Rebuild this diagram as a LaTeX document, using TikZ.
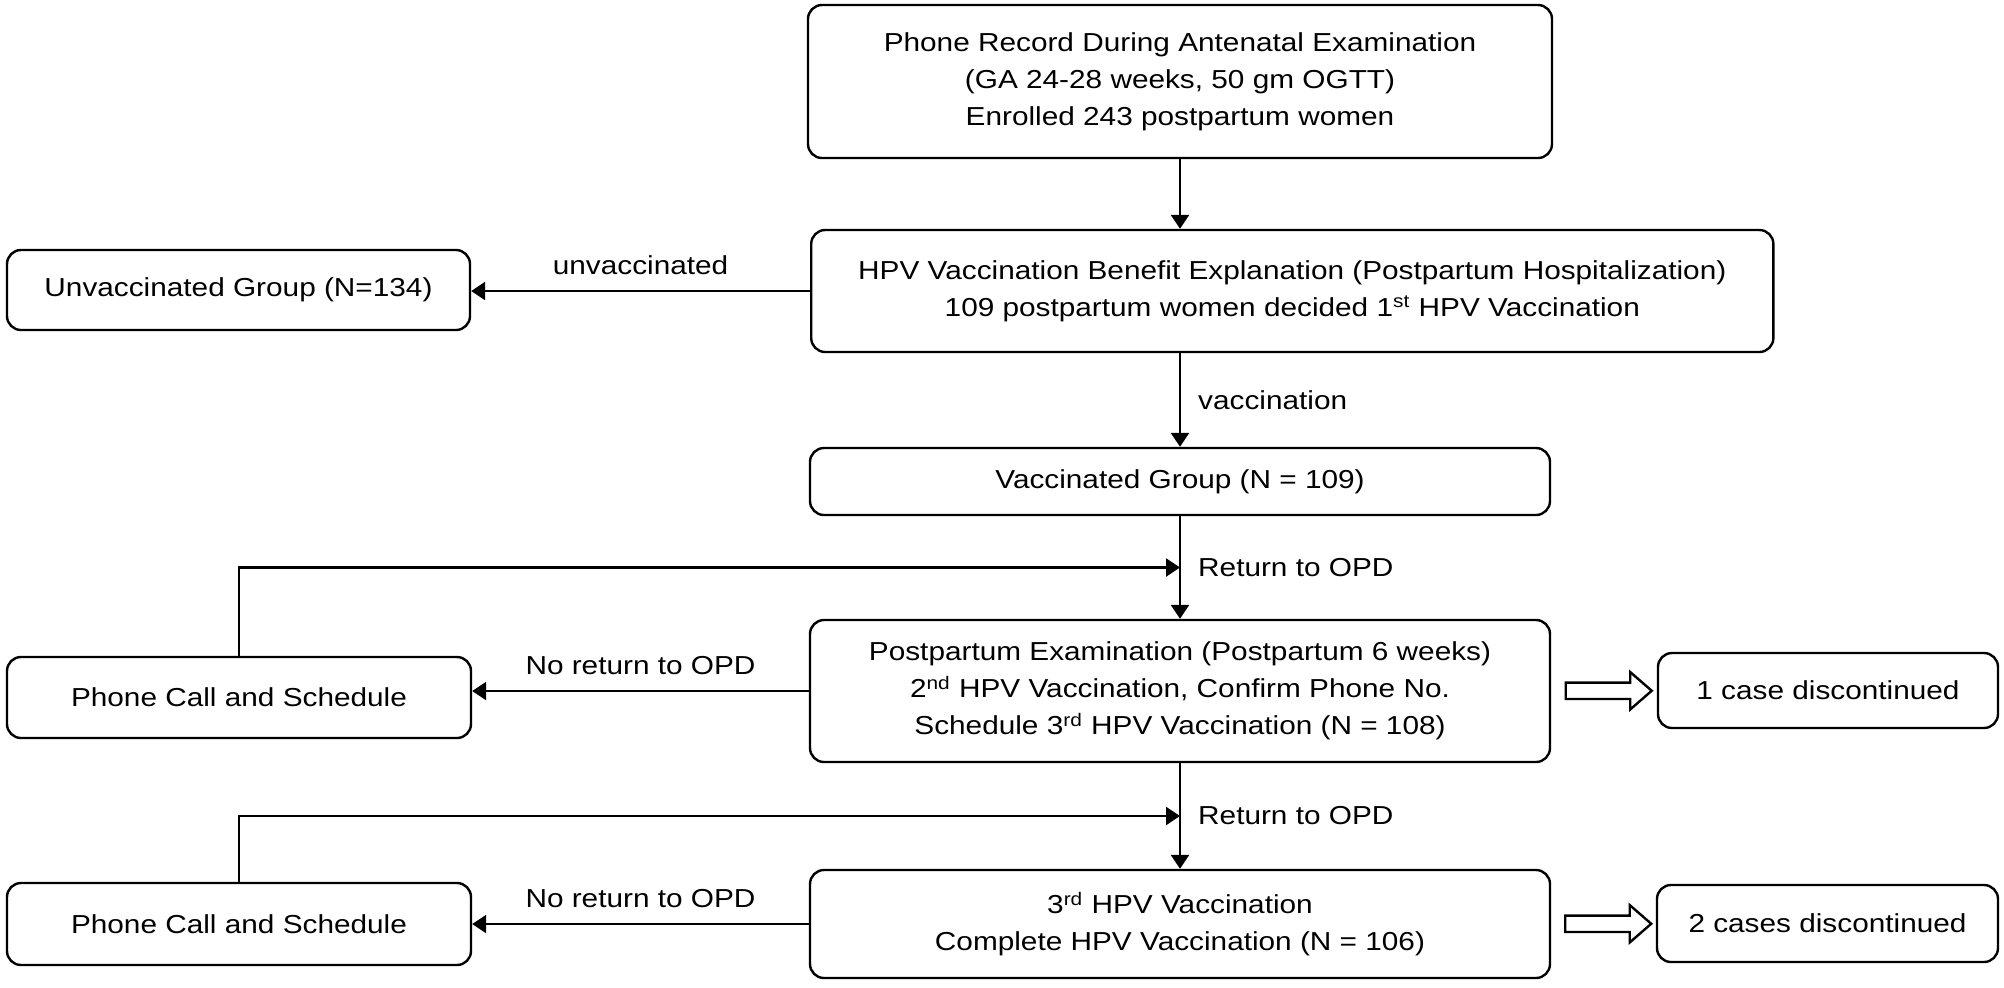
\documentclass[tikz,border=0pt]{standalone}
\usepackage{fontspec}
\setmainfont[FakeStretch=1.145]{Liberation Sans}
\usetikzlibrary{arrows.meta,shapes.arrows,calc}

\tikzset{
  box/.style={draw, line width=1.2pt, rounded corners=7pt, align=center, inner sep=0pt},
  lbl/.style={inner sep=0pt},
  arr/.style={line width=1.2pt, -{Triangle[length=7pt,width=9pt]}},
  hollow/.style={draw, line width=1.2pt, single arrow, single arrow head extend=5.25pt,
    single arrow tip angle=82, minimum height=43pt, inner sep=3.5pt}
}

\begin{document}
\begin{tikzpicture}[x=0.5pt,y=-0.5pt,font=\fontsize{13}{18.5}\selectfont]
    \useasboundingbox (0,0) rectangle (2004,987);

    \node[box, minimum width=372pt, minimum height=76.5pt] (record) at (1180,81.5)
        {Phone Record During Antenatal Examination\\(GA 24-28 weeks, 50 gm OGTT)\\Enrolled 243 postpartum women};
    \node[box, anchor=west, inner xsep=23.5pt, minimum height=61pt] (explain) at (810,291)
        {HPV Vaccination Benefit Explanation (Postpartum Hospitalization)\\109 postpartum women decided 1\textsuperscript{st} HPV Vaccination};
    \node[box, minimum width=231.5pt, minimum height=40pt] (unvacc) at (238.5,290) {Unvaccinated Group (N=134)};
    \node[box, minimum width=370pt, minimum height=33.5pt] (vacc) at (1180,481.5) {Vaccinated Group (N = 109)};

    \node[box, minimum width=370pt, minimum height=71pt] (second) at (1180,691)
        {Postpartum Examination (Postpartum 6 weeks)\\2\textsuperscript{nd} HPV Vaccination, Confirm Phone No.\\Schedule 3\textsuperscript{rd} HPV Vaccination (N = 108)};
    \node[box, minimum width=232pt, minimum height=40.5pt] (phoneA) at (239,697.5) {Phone Call and Schedule};
    \node[box, minimum width=170pt, minimum height=37.5pt] (lossA) at (1828,690.5) {1 case discontinued};

    \node[box, minimum width=370pt, minimum height=54pt] (third) at (1180,924)
        {3\textsuperscript{rd} HPV Vaccination\\Complete HPV Vaccination (N = 106)};
    \node[box, minimum width=232pt, minimum height=41pt] (phoneB) at (239,924) {Phone Call and Schedule};
    \node[box, minimum width=170.5pt, minimum height=38.5pt] (lossB) at (1827.5,923.5) {2 cases discontinued};

    \coordinate (retA) at ($(vacc.south)!0.5!(second.north)$);
    \coordinate (retB) at ($(second.south)!0.5!(third.north)$);

    \draw[arr] (record) -- (record |- explain.north);
    \draw[arr] (explain.west) -- (explain.west -| unvacc.east)
        node[lbl, midway, above=7.5pt] {unvaccinated};
    \draw[arr] (vacc |- explain.south) -- (vacc) node[lbl, midway, anchor=west, xshift=8.5pt] {vaccination};

    \draw[arr] (vacc) -- (second) node[lbl, midway, anchor=west, xshift=8.5pt] {Return to OPD};
    \draw[arr] (second.west) -- (second.west -| phoneA.east)
        node[lbl, midway, above=7.5pt] {No return to OPD};
    \draw[arr] (phoneA.north) |- (retA);
    \node[hollow] (outA) at ($(second.east)!0.5!(lossA.west)$) {};

    \draw[arr] (second) -- (third) node[lbl, midway, anchor=west, xshift=8.5pt] {Return to OPD};
    \draw[arr] (third.west) -- (third.west -| phoneB.east)
        node[lbl, midway, above=7.5pt] {No return to OPD};
    \draw[arr] (phoneB.north) |- (retB);
    \node[hollow] (outB) at ($(third.east)!0.5!(lossB.west)$) {};
\end{tikzpicture}
\end{document}
